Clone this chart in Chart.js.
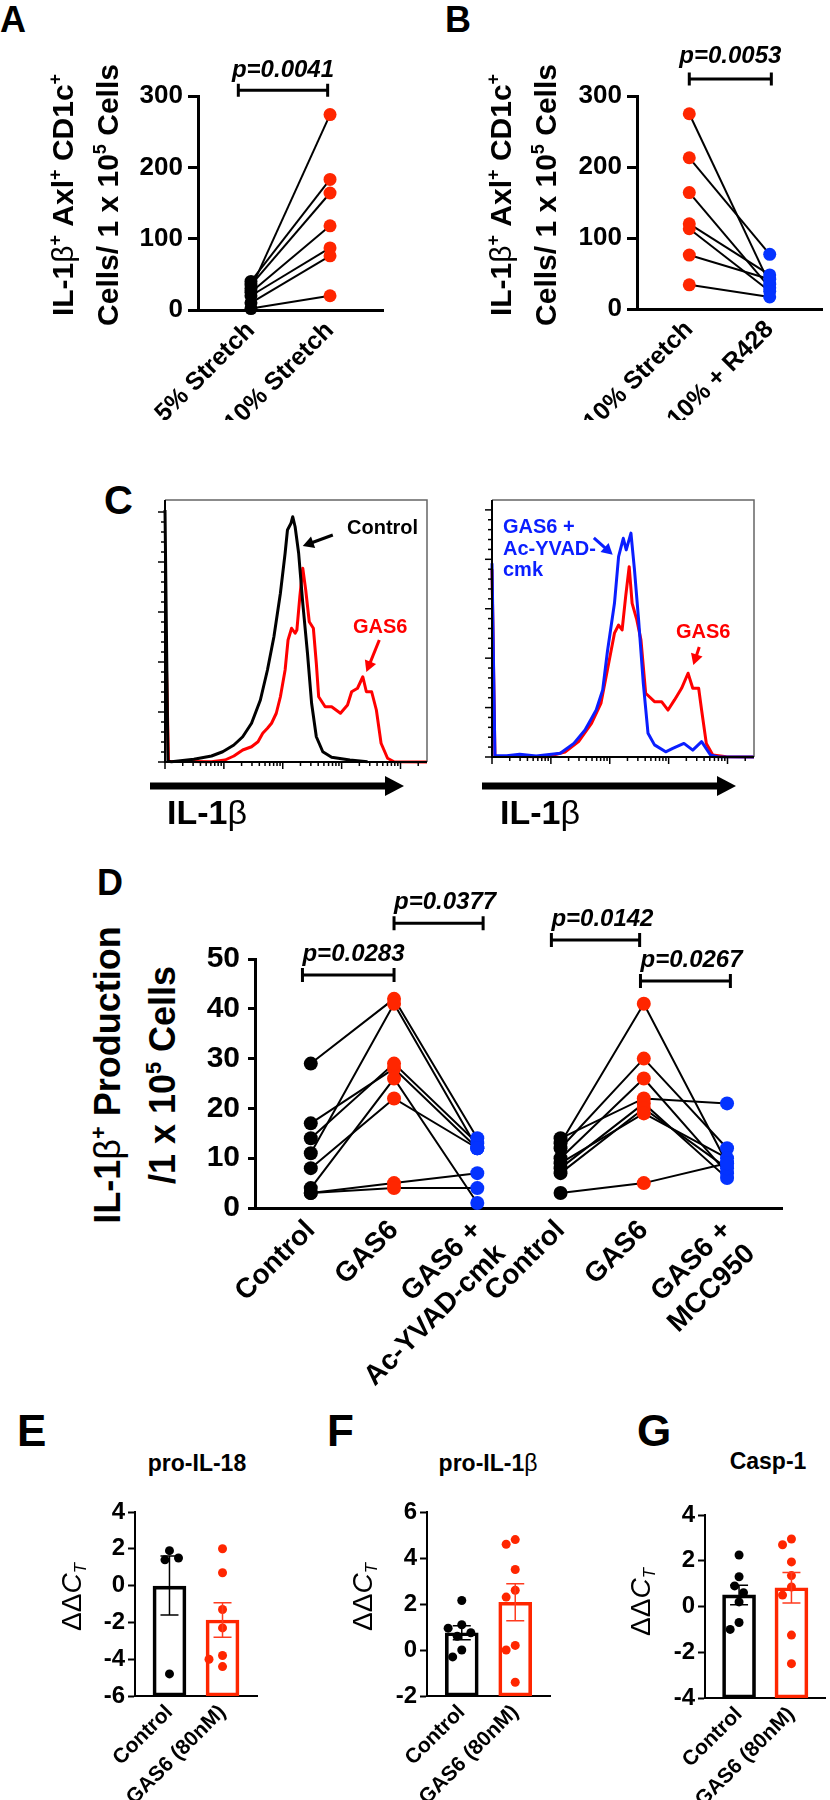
<!DOCTYPE html>
<html>
<head>
<meta charset="utf-8">
<script src="https://cdn.jsdelivr.net/npm/chart.js@4.4.1/dist/chart.umd.min.js"></script>
<style>
  body { margin: 0; background: #fff; width: 830px; height: 1800px; position: relative; overflow: hidden;
         font-family: "Liberation Sans", Arial, sans-serif; }
  canvas { position: absolute; }
  .t { position: absolute; white-space: nowrap; line-height: 1; font-weight: bold; color: #000; }
  .rot { transform: rotate(-90deg); transform-origin: 50% 50%; text-align: center; }
  .nar { font-family: "Liberation Sans Narrow", "Liberation Sans", sans-serif; }
  .b { font-weight: normal; }
  sup { font-size: 0.6em; line-height: 0; vertical-align: 0.65em; }
  sub { font-size: 0.6em; line-height: 0; vertical-align: -0.3em; }
</style>
</head>
<body>

<canvas id="cA" width="415" height="380" style="left:0;top:40px"></canvas>
<canvas id="cB" width="415" height="380" style="left:415px;top:40px"></canvas>
<canvas id="cC1" width="300" height="390" style="left:140px;top:470px"></canvas>
<canvas id="cC2" width="300" height="390" style="left:467px;top:470px"></canvas>
<canvas id="cD" width="630" height="515" style="left:200px;top:880px"></canvas>
<canvas id="cE" width="210" height="320" style="left:60px;top:1480px"></canvas>
<canvas id="cF" width="215" height="320" style="left:350px;top:1480px"></canvas>
<canvas id="cG" width="200" height="320" style="left:630px;top:1480px"></canvas>

<!-- panel letters -->
<div class="t" style="left:0;top:2px;font-size:36px">A</div>
<div class="t" style="left:445px;top:2px;font-size:36px">B</div>
<div class="t" style="left:104px;top:480px;font-size:40px">C</div>
<div class="t" style="left:97px;top:865px;font-size:36px">D</div>
<div class="t" style="left:17px;top:1409px;font-size:44px">E</div>
<div class="t" style="left:327px;top:1409px;font-size:44px">F</div>
<div class="t" style="left:637px;top:1409px;font-size:44px">G</div>

<!-- y titles A, B, D -->
<div class="t rot" style="left:-75px;top:150px;width:320px;font-size:30px;line-height:45px">IL-1<span class="b">β</span><sup>+</sup> Axl<sup>+</sup> CD1c<sup>+</sup><br>Cells/ 1 x 10<sup>5</sup> Cells</div>
<div class="t rot" style="left:363px;top:150px;width:320px;font-size:30px;line-height:45px">IL-1<span class="b">β</span><sup>+</sup> Axl<sup>+</sup> CD1c<sup>+</sup><br>Cells/ 1 x 10<sup>5</sup> Cells</div>
<div class="t rot" style="left:-55px;top:1020px;width:380px;font-size:36px;line-height:55px">IL-1<span class="b">β</span><sup>+</sup> Production<br>/1 x 10<sup>5</sup> Cells</div>

<!-- panel C texts -->
<div class="t nar" style="left:347px;top:517px;font-size:20px">Control</div>
<div class="t nar" style="left:353px;top:616px;font-size:20px;color:#ff0000">GAS6</div>
<div class="t nar" style="left:503px;top:516px;font-size:20px;line-height:21.5px;color:#0a1eff">GAS6 +<br>Ac-YVAD-<br>cmk</div>
<div class="t nar" style="left:676px;top:621px;font-size:20px;color:#ff0000">GAS6</div>
<div class="t" style="left:167px;top:795px;font-size:34px">IL-1<span class="b">β</span></div>
<div class="t" style="left:500px;top:795px;font-size:34px">IL-1<span class="b">β</span></div>

<!-- E, F, G titles -->
<div class="t" style="left:97px;top:1452px;width:200px;text-align:center;font-size:23px">pro-IL-18</div>
<div class="t" style="left:388px;top:1452px;width:200px;text-align:center;font-size:23px">pro-IL-1<span class="b">β</span></div>
<div class="t" style="left:668px;top:1450px;width:200px;text-align:center;font-size:23px">Casp-1</div>
<div class="t rot b" style="left:32px;top:1583px;width:80px;font-size:28px">ΔΔ<i>C</i><sub><i>T</i></sub></div>
<div class="t rot b" style="left:323px;top:1583px;width:80px;font-size:28px">ΔΔ<i>C</i><sub><i>T</i></sub></div>
<div class="t rot b" style="left:601px;top:1588px;width:80px;font-size:28px">ΔΔ<i>C</i><sub><i>T</i></sub></div>

<script>
// ---------- data ----------
// A
const aCats = ['5% Stretch', '10% Stretch'];
const aStretch5 = [30, 40, 35, 25, 20, 10, 2];
const aStretch10 = [274, 183, 164, 118, 87, 76, 20];
// B
const bCats = ['10% Stretch', '10% + R428'];
const bStretch10 = [275, 213, 164, 120, 113, 76, 34];
const bR428 = [35, 77, 30, 48, 25, 42, 17];
// C  (x = log decades, y = % of max)
const cLeftControl = [[0, 100.8], [0.05, 0.3], [0.11, 0.1], [0.49, 1.1], [0.79, 2.4], [0.98, 4.1], [1.17, 6.8],
  [1.32, 10.1], [1.47, 15.5], [1.62, 24.8], [1.74, 36.8], [1.85, 50.1], [1.96, 67.5], [2.04, 83.5], [2.08, 92.8],
  [2.14, 95.5], [2.17, 98.1], [2.21, 94.1], [2.27, 83.5], [2.34, 63.5], [2.42, 43.5], [2.49, 23.5], [2.57, 10.1],
  [2.68, 4.1], [2.83, 1.9], [3.14, 0.8], [3.44, 0.1]];
const cLeftGas6 = [[0.02, 43], [0.06, 0.3], [0.79, 0.1], [1.02, 0.8], [1.17, 2.4], [1.32, 4.8], [1.47, 6.1],
  [1.58, 8.1], [1.66, 11.5], [1.74, 13.5], [1.81, 15.5], [1.89, 19.5], [1.96, 26.1], [2.04, 36.8], [2.09, 48.8],
  [2.15, 53.5], [2.21, 51.5], [2.24, 52.8], [2.29, 66.1], [2.34, 77.5], [2.39, 68.8], [2.45, 56.1], [2.52, 53.5],
  [2.57, 39.5], [2.61, 26.1], [2.72, 22.1], [2.83, 22.1], [2.98, 19.5], [3.10, 22.8], [3.17, 28.1], [3.27, 29.5],
  [3.36, 34.1], [3.42, 28.1], [3.51, 28.1], [3.59, 20.8], [3.67, 7.5], [3.78, 1.5], [3.89, 0.1], [4.45, 0]];
const cRightGas6 = [[0, 76], [0.05, 0.3], [0.93, 0.1], [1.24, 2.0], [1.47, 6.2], [1.69, 13.6], [1.85, 21.7],
  [1.96, 35.2], [2.08, 50.1], [2.15, 53.4], [2.21, 51.4], [2.27, 64.9], [2.33, 77], [2.38, 62.2], [2.46, 55.5],
  [2.53, 47.4], [2.61, 25.8], [2.76, 22.4], [2.88, 22.4], [2.99, 19], [3.10, 23.1], [3.22, 27.8], [3.33, 33.9],
  [3.41, 27.8], [3.51, 27.8], [3.56, 19], [3.64, 5.5], [3.75, 0.8], [3.98, 0.1], [4.45, 0]];
const cRightYvad = [[0, 78.4], [0.05, 0.5], [0.25, 0.5], [0.47, 1.1], [0.75, 0.4], [1.16, 1.5], [1.39, 5.5],
  [1.58, 10.9], [1.77, 19], [1.88, 27.1], [1.96, 42.6], [2.08, 62.2], [2.15, 81.1], [2.23, 88.5], [2.28, 83.8],
  [2.36, 90.6], [2.42, 75.7], [2.49, 55.5], [2.57, 29.8], [2.65, 9.6], [2.76, 4.9], [2.95, 2.1], [3.07, 3.5],
  [3.26, 5.5], [3.41, 2.8], [3.56, 6.2], [3.71, 0.8], [3.83, 0.1], [4.45, 0]];
// D
const dCats = ['Control', 'GAS6', ['GAS6 +', 'Ac-YVAD-cmk'], 'Control', 'GAS6', ['GAS6 +', 'MCC950']];
const dCtrl1 = [29, 17, 14, 11, 8, 4, 3, 3];
const dGas1 = [42, 28, 29, 41, 22, 26, 5, 4];
const dYvad = [14, 12, 13, 12, 12, 1, 7, 4];
const dCtrl2 = [14, 13, 12, 10, 8, 7, 9, 3];
const dGas2 = [22, 41, 30, 26, 21, 20, 19, 5];
const dMcc = [21, 9, 12, 7, 6, 8, 10, 9];
// E, F, G
const qCats = ['Control', 'GAS6 (80nM)'];
const eCtrl = [1.9, 1.4, 1.5, -4.8];
const eGas6 = [2.0, 0.7, -1.3, -2.3, -3.8, -4.4, -4.0];
const fCtrl = [2.15, 1.1, 0.95, 0.75, 0.6, 0.0, -0.3];
const fGas6 = [4.8, 4.6, 3.5, 2.6, 2.3, 0.2, 0.0, -1.4];
const gCtrl = [2.25, 1.3, 0.9, 0.6, 0.2, -0.7, -1.0];
const gGas6 = [2.95, 2.7, 1.95, 1.35, 0.85, 0.5, -1.25, -2.5];

// ---------- helpers ----------
const RED = '#ff2600', BLUE = '#0433ff', BLACK = '#000000';
Chart.defaults.color = '#000';
Chart.defaults.font.family = 'Liberation Sans';

function bold(size) { return { family: 'Liberation Sans', size: size, weight: 'bold' }; }
function mean(a) { return a.reduce((p, v) => p + v, 0) / a.length; }
function sem(a) {
  const m = mean(a);
  const sd = Math.sqrt(a.reduce((p, v) => p + (v - m) * (v - m), 0) / (a.length - 1));
  return sd / Math.sqrt(a.length);
}

function catScale(cats, min, max, fontSize, xHeight, pad, borderW) {
  return {
    type: 'linear', min: min, max: max, offset: false,
    afterBuildTicks: s => { s.ticks = cats.map((c, i) => ({ value: i })); },
    afterFit: s => { s.height = xHeight; },
    grid: { display: true, drawOnChartArea: false, drawTicks: false },
    border: { display: true, color: '#000', width: borderW },
    ticks: { autoSkip: false, minRotation: 45, maxRotation: 45, padding: pad, font: bold(fontSize), color: '#000',
             callback: v => cats[v] }
  };
}

function valScale(min, max, step, fontSize, yWidth, tickLen, pad, borderW) {
  return {
    type: 'linear', min: min, max: max,
    afterFit: s => { s.width = yWidth; },
    grid: { display: true, drawOnChartArea: false, drawTicks: true, tickLength: tickLen, tickWidth: borderW, tickColor: '#000' },
    border: { display: true, color: '#000', width: borderW },
    ticks: { stepSize: step, padding: pad, font: bold(fontSize), color: '#000' }
  };
}

// significance brackets
const bracketPlugin = {
  id: 'brackets',
  afterDraw(chart, args, opts) {
    const { ctx, scales: { x, y } } = chart;
    ctx.save();
    ctx.strokeStyle = '#000'; ctx.fillStyle = '#000'; ctx.lineWidth = 3;
    ctx.font = 'italic bold ' + opts.size + 'px "Liberation Sans"';
    (opts.items || []).forEach(b => {
      const x1 = x.getPixelForValue(b.from), x2 = x.getPixelForValue(b.to), yy = y.getPixelForValue(b.y);
      ctx.beginPath();
      ctx.moveTo(x1, yy); ctx.lineTo(x2, yy);
      ctx.moveTo(x1, yy - opts.tick); ctx.lineTo(x1, yy + opts.tick);
      ctx.moveTo(x2, yy - opts.tick); ctx.lineTo(x2, yy + opts.tick);
      ctx.stroke();
      ctx.textAlign = opts.align;
      ctx.textBaseline = 'alphabetic';
      ctx.fillText(b.text, opts.align === 'center' ? (x1 + x2) / 2 : x1, yy - opts.gap);
    });
    ctx.restore();
  }
};

function pairedChart(id, cats, segments, colors, cfg) {
  const datasets = [];
  segments.forEach(seg => {
    const n = seg.series[0].length;
    for (let i = 0; i < n; i++) {
      datasets.push({
        type: 'line', order: 2, clip: false, showLine: true,
        data: seg.series.map((s, j) => ({ x: seg.start + j, y: s[i] })),
        borderColor: BLACK, borderWidth: cfg.lineW, pointRadius: 0, fill: false
      });
    }
    seg.series.forEach((s, j) => {
      const c = colors[seg.start + j];
      datasets.push({
        type: 'scatter', order: 1, clip: false,
        data: s.map(v => ({ x: seg.start + j, y: v })),
        pointRadius: cfg.r, backgroundColor: c, borderColor: c, borderWidth: 0
      });
    });
  });
  return new Chart(document.getElementById(id), {
    type: 'scatter',
    data: { datasets: datasets },
    options: {
      responsive: false, animation: false, events: [],
      layout: { padding: cfg.pad },
      plugins: { legend: { display: false }, tooltip: { enabled: false }, brackets: cfg.brackets },
      scales: { x: cfg.x, y: cfg.y }
    },
    plugins: [bracketPlugin]
  });
}

// histogram frame, log ticks, axis arrow, label arrows
function drawArrow(ctx, x1, y1, x2, y2, color) {
  const ang = Math.atan2(y2 - y1, x2 - x1), head = 11;
  ctx.strokeStyle = color; ctx.fillStyle = color; ctx.lineWidth = 3;
  ctx.beginPath(); ctx.moveTo(x1, y1);
  ctx.lineTo(x2 - Math.cos(ang) * head * 0.8, y2 - Math.sin(ang) * head * 0.8); ctx.stroke();
  ctx.beginPath(); ctx.moveTo(x2, y2);
  ctx.lineTo(x2 - head * Math.cos(ang) + head * 0.55 * Math.sin(ang), y2 - head * Math.sin(ang) - head * 0.55 * Math.cos(ang));
  ctx.lineTo(x2 - head * Math.cos(ang) - head * 0.55 * Math.sin(ang), y2 - head * Math.sin(ang) + head * 0.55 * Math.cos(ang));
  ctx.closePath(); ctx.fill();
}

const histPlugin = {
  id: 'histFrame',
  afterDraw(chart, args, opts) {
    const { ctx, chartArea: a, scales: { x, y } } = chart;
    ctx.save();
    // frame
    ctx.strokeStyle = '#666'; ctx.lineWidth = 1.5;
    ctx.beginPath(); ctx.moveTo(a.left, a.top); ctx.lineTo(a.right, a.top); ctx.lineTo(a.right, a.bottom); ctx.stroke();
    ctx.strokeStyle = '#000'; ctx.lineWidth = 2;
    ctx.beginPath(); ctx.moveTo(a.left, a.top); ctx.lineTo(a.left, a.bottom); ctx.lineTo(a.right, a.bottom); ctx.stroke();
    // y ticks
    ctx.lineWidth = 1.5;
    for (let v = 0; v <= 100; v += 4) {
      const py = y.getPixelForValue(v), len = v % 20 === 0 ? 7 : 4;
      ctx.beginPath(); ctx.moveTo(a.left - len, py); ctx.lineTo(a.left, py); ctx.stroke();
    }
    // x log ticks
    for (let d = 0; d <= 4; d++) {
      for (let k = 1; k <= 9; k++) {
        const v = d + Math.log10(k);
        if (v > x.max) break;
        const px = x.getPixelForValue(v), len = k === 1 ? 7 : 4;
        ctx.beginPath(); ctx.moveTo(px, a.bottom); ctx.lineTo(px, a.bottom + len); ctx.stroke();
      }
    }
    // axis arrow
    const ay = a.bottom + opts.arrowDy, ax0 = a.left + opts.arrowX0, ax1 = a.left + opts.arrowX1;
    ctx.fillStyle = '#000';
    ctx.fillRect(ax0, ay - 3.5, ax1 - 18 - ax0, 7);
    ctx.beginPath(); ctx.moveTo(ax1 - 19, ay - 10); ctx.lineTo(ax1, ay); ctx.lineTo(ax1 - 19, ay + 10); ctx.closePath(); ctx.fill();
    // annotation arrows
    opts.notes.forEach(n => drawArrow(ctx, x.getPixelForValue(n.from[0]), y.getPixelForValue(n.from[1]),
      x.getPixelForValue(n.to[0]), y.getPixelForValue(n.to[1]), n.color));
    ctx.restore();
  }
};

function histChart(id, series, cfg) {
  const datasets = series.map((s, i) => ({
    type: 'line', order: series.length - i, clip: false, showLine: true,
    data: s.pts.map(p => ({ x: p[0], y: p[1] })),
    borderColor: s.color, borderWidth: 3, pointRadius: 0, tension: 0, borderJoinStyle: 'round', fill: false
  }));
  return new Chart(document.getElementById(id), {
    type: 'scatter',
    data: { datasets: datasets },
    options: {
      responsive: false, animation: false, events: [],
      layout: { padding: cfg.pad },
      plugins: { legend: { display: false }, tooltip: { enabled: false }, histFrame: cfg },
      scales: { x: { type: 'linear', display: false, min: 0, max: 4.45 },
                y: { type: 'linear', display: false, min: 0, max: cfg.ymax } }
    },
    plugins: [histPlugin]
  });
}

// bar + dots + SEM
function swarm(vals, pxPerY, pxPerX, r) {
  const placed = [];
  return vals.map(v => {
    const py = v * pxPerY;
    let off = 0;
    for (let k = 0; k < 40; k++) {
      off = k === 0 ? 0 : (k % 2 ? -1 : 1) * Math.ceil(k / 2) * r;
      if (placed.every(p => Math.hypot(p.x - off, p.y - py) >= 2 * r + 1)) break;
    }
    placed.push({ x: off, y: py });
    return off / pxPerX;
  });
}

const errPlugin = {
  id: 'errbars',
  afterDatasetsDraw(chart, args, opts) {
    const { ctx, scales: { x, y } } = chart;
    ctx.save();
    ctx.lineWidth = 1.5;
    opts.groups.forEach((g, i) => {
      const m = mean(g), s = sem(g), px = x.getPixelForValue(i);
      const yt = y.getPixelForValue(m + s), yb = y.getPixelForValue(m - s);
      ctx.strokeStyle = opts.colors[i];
      ctx.beginPath();
      ctx.moveTo(px, yt); ctx.lineTo(px, yb);
      ctx.moveTo(px - 9, yt); ctx.lineTo(px + 9, yt);
      ctx.moveTo(px - 9, yb); ctx.lineTo(px + 9, yb);
      ctx.stroke();
    });
    ctx.restore();
  }
};

function barChart(id, ctrl, gas6, cfg) {
  const groups = [ctrl, gas6], colors = [BLACK, RED];
  const pxPerY = cfg.areaH / (cfg.max - cfg.min), pxPerX = 53;
  const datasets = [];
  groups.forEach((g, i) => {
    const offs = swarm(g, pxPerY, pxPerX, 4.5);
    datasets.push({
      type: 'scatter', order: 1, clip: false,
      data: g.map((v, k) => ({ x: i + offs[k], y: v })),
      pointRadius: 4.5, backgroundColor: colors[i], borderColor: colors[i], borderWidth: 0
    });
  });
  datasets.push({
    type: 'bar', order: 2,
    data: groups.map((g, i) => ({ x: i, y: [cfg.min, mean(g)] })),
    backgroundColor: 'rgba(255,255,255,0)', borderColor: colors, borderWidth: 3,
    borderSkipped: false, barThickness: 33
  });
  return new Chart(document.getElementById(id), {
    type: 'scatter',
    data: { datasets: datasets },
    options: {
      responsive: false, animation: false, events: [],
      layout: { padding: cfg.pad },
      plugins: { legend: { display: false }, tooltip: { enabled: false },
                 errbars: { groups: groups, colors: [BLACK, '#ff3b1f'] } },
      scales: {
        x: catScale(qCats, -0.65, 1.65, 21, cfg.xHeight, 4, 2),
        y: valScale(cfg.min, cfg.max, 2, 24, cfg.yWidth, 7, 3, 2)
      }
    },
    plugins: [errPlugin]
  });
}

// ---------- charts ----------
pairedChart('cA', aCats, [{ start: 0, series: [aStretch5, aStretch10] }], [BLACK, RED], {
  lineW: 2, r: 6.5, pad: { left: 0, top: 56, right: 32, bottom: 0 },
  x: catScale(aCats, -0.67, 1.67, 25, 110, 6, 3),
  y: valScale(0, 300, 100, 26, 198, 10, 5, 3),
  brackets: { size: 24, tick: 6.5, gap: 13, align: 'center',
              items: [{ from: -0.16, to: 0.97, y: 308, text: 'p=0.0041' }] }
});

pairedChart('cB', bCats, [{ start: 0, series: [bStretch10, bR428] }], [RED, BLUE], {
  lineW: 2, r: 6.5, pad: { left: 0, top: 56, right: 8, bottom: 0 },
  x: catScale(bCats, -0.65, 1.65, 25, 111, 6, 3),
  y: valScale(0, 300, 100, 26, 222, 10, 5, 3),
  brackets: { size: 24, tick: 6.5, gap: 16, align: 'center',
              items: [{ from: 0, to: 1.02, y: 324, text: 'p=0.0053' }] }
});

histChart('cC1', [{ pts: cLeftGas6, color: '#ff0000' }, { pts: cLeftControl, color: '#000000' }], {
  pad: { left: 25, top: 30, right: 13, bottom: 98 }, ymax: 104.8,
  arrowDy: 24, arrowX0: -15, arrowX1: 239,
  notes: [{ from: [2.85, 90.8], to: [2.34, 86.4], color: '#000' },
          { from: [3.64, 48.8], to: [3.42, 36], color: '#ff0000' }]
});

histChart('cC2', [{ pts: cRightGas6, color: '#ff0000' }, { pts: cRightYvad, color: '#0a1eff' }], {
  pad: { left: 25, top: 30, right: 13, bottom: 103 }, ymax: 104,
  arrowDy: 29, arrowX0: -10, arrowX1: 244,
  notes: [{ from: [1.73, 88.7], to: [2.05, 81.8], color: '#0a1eff' },
          { from: [3.52, 44.5], to: [3.42, 37.2], color: '#ff0000' }]
});

pairedChart('cD', dCats, [{ start: 0, series: [dCtrl1, dGas1, dYvad] }, { start: 3, series: [dCtrl2, dGas2, dMcc] }],
  [BLACK, RED, BLUE, BLACK, RED, BLUE], {
  lineW: 2, r: 7, pad: { left: 0, top: 79, right: 48, bottom: 0 },
  x: catScale(dCats, -0.67, 5.66, 28, 187, 6, 3),
  y: valScale(0, 50, 10, 30, 55, 7, 8, 3),
  brackets: { size: 24, tick: 7, gap: 14, align: 'left',
              items: [{ from: -0.1, to: 1, y: 46.8, text: 'p=0.0283' },
                      { from: 1, to: 2.07, y: 57.2, text: 'p=0.0377' },
                      { from: 2.89, to: 3.95, y: 53.8, text: 'p=0.0142' },
                      { from: 3.96, to: 5.04, y: 45.6, text: 'p=0.0267' }] }
});

barChart('cE', eCtrl, eGas6, { min: -6, max: 4, areaH: 184, yWidth: 75, xHeight: 104,
  pad: { left: 0, top: 32, right: 13, bottom: 0 } });
barChart('cF', fCtrl, fGas6, { min: -2, max: 6, areaH: 184, yWidth: 77, xHeight: 104,
  pad: { left: 0, top: 32, right: 15, bottom: 0 } });
barChart('cG', gCtrl, gGas6, { min: -4, max: 4, areaH: 183, yWidth: 75, xHeight: 102,
  pad: { left: 0, top: 35, right: 1, bottom: 0 } });
</script>
</body>
</html>
